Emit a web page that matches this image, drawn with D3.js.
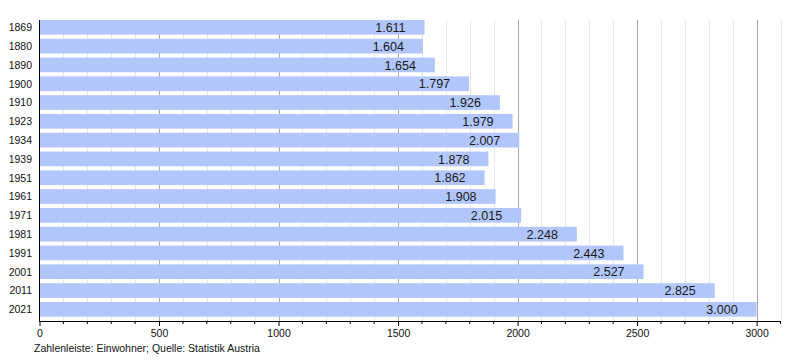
<!DOCTYPE html>
<html><head><meta charset="utf-8">
<script src="https://cdn.jsdelivr.net/npm/d3@7"></script>
<style>body{margin:0;background:#fff}svg{display:block;font-family:"Liberation Sans",Arial,sans-serif}</style>
</head><body><svg id="c" width="800" height="360"></svg>
<script>
const years = ["1869","1880","1890","1900","1910","1923","1934","1939","1951","1961","1971","1981","1991","2001","2011","2021"];
const population = [1611,1604,1654,1797,1926,1979,2007,1878,1862,1908,2015,2248,2443,2527,2825,3000];
const majorTicks = [0,500,1000,1500,2000,2500,3000];
const caption = "Zahlenleiste: Einwohner; Quelle: Statistik Austria";

const svg = d3.select("#c");
const x = d3.scaleLinear().domain([0,3100]).range([39.5,780.5]);
const plotTop = 20, plotBottom = 321;
const y = d3.scaleBand().domain(years).range([plotTop, plotTop + 16*18.8]).paddingInner(0.22).paddingOuter(0.11).align(0);
const minor = d3.range(0,3101,100);

const defs = svg.append("defs");
defs.append("filter").attr("id","soft").append("feGaussianBlur").attr("stdDeviation",0.55);

// grid
svg.append("g").selectAll("line").data(minor.filter(d=>d%500!==0)).join("line")
  .attr("x1",d=>Math.round(x(d))+0.5).attr("x2",d=>Math.round(x(d))+0.5)
  .attr("y1",plotTop).attr("y2",plotBottom).attr("stroke","#e8e8e8").attr("stroke-width",1);
svg.append("g").selectAll("line").data(majorTicks.filter(d=>d>0)).join("line")
  .attr("x1",d=>Math.round(x(d))+0.5).attr("x2",d=>Math.round(x(d))+0.5)
  .attr("y1",plotTop).attr("y2",plotBottom).attr("stroke","#aaaaaa").attr("stroke-width",1);

// bars
const fmt = v => d3.format(",")(v).replace(/,/g,".");
const data = years.map((yr,i)=>({yr, v:population[i]}));
svg.append("g").attr("filter","url(#soft)").selectAll("rect").data(data).join("rect")
  .attr("x",x(0)).attr("y",d=>y(d.yr)).attr("width",d=>x(d.v)-x(0)).attr("height",y.bandwidth())
  .attr("fill","#b1c6fb");

svg.append("g").selectAll("text").data(data).join("text")
  .attr("x",d=>x(d.v)-19).attr("y",d=>y(d.yr)+y.bandwidth()/2).attr("dy","0.37em")
  .attr("text-anchor","end").attr("font-size",12.5).attr("fill","#1a1a1a").text(d=>fmt(d.v));

// year labels
svg.append("g").selectAll("text").data(years).join("text")
  .attr("x",32).attr("y",d=>y(d)+y.bandwidth()/2).attr("dy","0.36em")
  .attr("text-anchor","end").attr("font-size",10.5).attr("fill","#111").text(d=>d);

// axes lines
svg.append("line").attr("x1",x(0)).attr("x2",x(0)).attr("y1",plotTop).attr("y2",plotBottom+0.5).attr("stroke","#000").attr("stroke-width",1);
const xAxis = d3.axisBottom(x).tickValues(majorTicks).tickSize(5).tickPadding(4).tickFormat(d=>d);
const ga = svg.append("g").attr("transform",`translate(0,${plotBottom})`).call(xAxis);
ga.select(".domain").attr("d",`M${x(0)},0.5H${x(3100)}`).attr("stroke","#000");
ga.selectAll("text").attr("font-size",10.5).attr("fill","#111").attr("font-family","Liberation Sans, Arial, sans-serif");
ga.selectAll(".tick line").attr("stroke","#000");
svg.append("g").attr("transform",`translate(0,${plotBottom})`).selectAll("line").data(minor.filter(d=>d%500!==0)).join("line")
  .attr("x1",d=>x(d)).attr("x2",d=>x(d)).attr("y1",0).attr("y2",3).attr("stroke","#000");

svg.append("text").attr("x",34).attr("y",352).attr("font-size",10.5).attr("fill","#111").text(caption);
</script></body></html>
